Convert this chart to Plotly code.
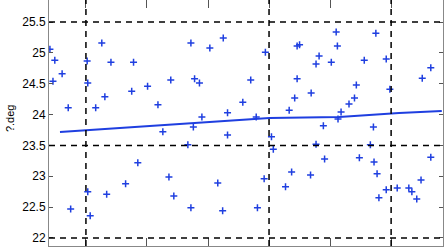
import plotly.graph_objects as go

pts_x = [0.41, 0.49, 1.02, 1.41, 1.78, 1.26, 0.61, 0.46, 1.03, 1.31, 1.75, 2.01, 0.71, 1.16,
         1.85, 1.65, 1.34, 1.03, 0.75, 1.07,
         2.72, 3.03, 3.25, 3.94, 4.46, 2.39, 2.78, 2.86, 3.70, 4.46, 2.18, 2.90, 3.32, 3.57, 3.79, 4.42, 4.33,
         2.26, 2.76, 3.32, 4.04, 2.67, 4.07, 2.36, 3.16, 3.92, 4.37, 4.27, 2.44, 2.72, 3.24, 3.81,
         5.10, 5.75, 4.50, 5.12, 4.82, 4.77, 5.02, 5.56, 5.92, 6.65, 6.51, 4.69, 5.43, 5.98, 5.40, 5.31, 5.18, 5.13,
         4.89, 5.71, 4.77, 5.66, 6.65, 4.91, 5.48, 5.72, 5.77, 4.68, 6.49, 6.10, 6.29, 6.34, 5.92, 5.80, 6.42]
pts_y = [25.06, 24.88, 24.87, 24.85, 24.85, 25.16, 24.66, 24.54, 24.51, 24.29, 24.38, 24.46, 24.11, 24.11,
         23.22, 22.88, 22.71, 22.75, 22.47, 22.36,
         25.16, 25.08, 25.24, 25.01, 25.11, 24.56, 24.58, 24.51, 24.56, 24.58, 24.16, 23.96, 24.03, 24.20, 23.96, 24.27, 24.07,
         23.72, 23.80, 23.67, 23.64, 23.51, 23.44, 22.99, 22.89, 22.96, 23.07, 22.83, 22.68, 22.49, 22.44, 22.49,
         25.34, 25.32, 25.13, 25.11, 24.95, 24.82, 24.85, 24.88, 24.90, 24.76, 24.59, 24.35, 24.48, 24.41, 24.27, 24.17, 24.04, 23.93,
         23.82, 23.80, 23.52, 23.51, 23.31, 23.28, 23.30, 23.23, 23.04, 23.02, 22.94, 22.81, 22.81, 22.75, 22.78, 22.65, 22.63]

trend_x = [0.575, 2.046, 4.006, 5.15, 6.13, 6.83]
trend_y = [23.718, 23.815, 23.945, 23.961, 24.026, 24.058]

y_ticks = [22, 22.5, 23, 23.5, 24, 24.5, 25, 25.5]
y_tick_labels = ["22", "22.5", "23", "23.5", "24", "24.5", "25", "25.5"]
x_ticks = [1, 2, 3, 4, 5, 6]
h_dashed = [25.5, 23.5, 22]
v_dashed = [1, 4, 6]
y_label = "?.deg"

blue = "#1f3fe0"

fig = go.Figure()
fig.add_trace(go.Scatter(x=trend_x, y=trend_y, mode="lines",
                         line=dict(color=blue, width=2), showlegend=False))
fig.add_trace(go.Scatter(x=pts_x, y=pts_y, mode="markers",
                         marker=dict(symbol="cross-thin", size=5, color=blue,
                                     line=dict(color=blue, width=1.5)),
                         showlegend=False))

for yv in h_dashed:
    fig.add_shape(type="line", xref="paper", yref="y", x0=0, x1=1, y0=yv, y1=yv,
                  line=dict(color="black", width=1.5, dash="6px,5px"))
for xv in v_dashed:
    fig.add_shape(type="line", xref="x", yref="paper", x0=xv, x1=xv, y0=0, y1=1,
                  line=dict(color="black", width=1.5, dash="6px,5px"))

fig.add_annotation(text=y_label, xref="paper", yref="paper", x=0, y=0.52,
                   xshift=-39, xanchor="center", yanchor="middle", textangle=-90,
                   showarrow=False, font=dict(family="Liberation Sans, Arial", size=11, color="black"))

fig.update_layout(
    width=444, height=247,
    margin=dict(l=49, r=1, t=0, b=1),
    paper_bgcolor="white", plot_bgcolor="white",
    font=dict(family="Liberation Sans, Arial", size=12, color="black"),
    xaxis=dict(range=[0.395, 6.85], tickvals=x_ticks, showticklabels=False,
               ticks="inside", ticklen=8, tickcolor="#555", showgrid=False, zeroline=False,
               showline=True, linecolor="#888", linewidth=1, mirror="ticks"),
    yaxis=dict(range=[21.87, 25.857], tickvals=y_ticks, ticktext=y_tick_labels,
               ticks="inside", ticklen=4, tickcolor="#555", showgrid=False, zeroline=False,
               showline=True, linecolor="#888", linewidth=1, mirror="ticks",
               tickfont=dict(size=12, color="black")),
)

fig.write_html("out.html", config={"displayModeBar": False},
               post_script="document.body.style.margin='0';")
